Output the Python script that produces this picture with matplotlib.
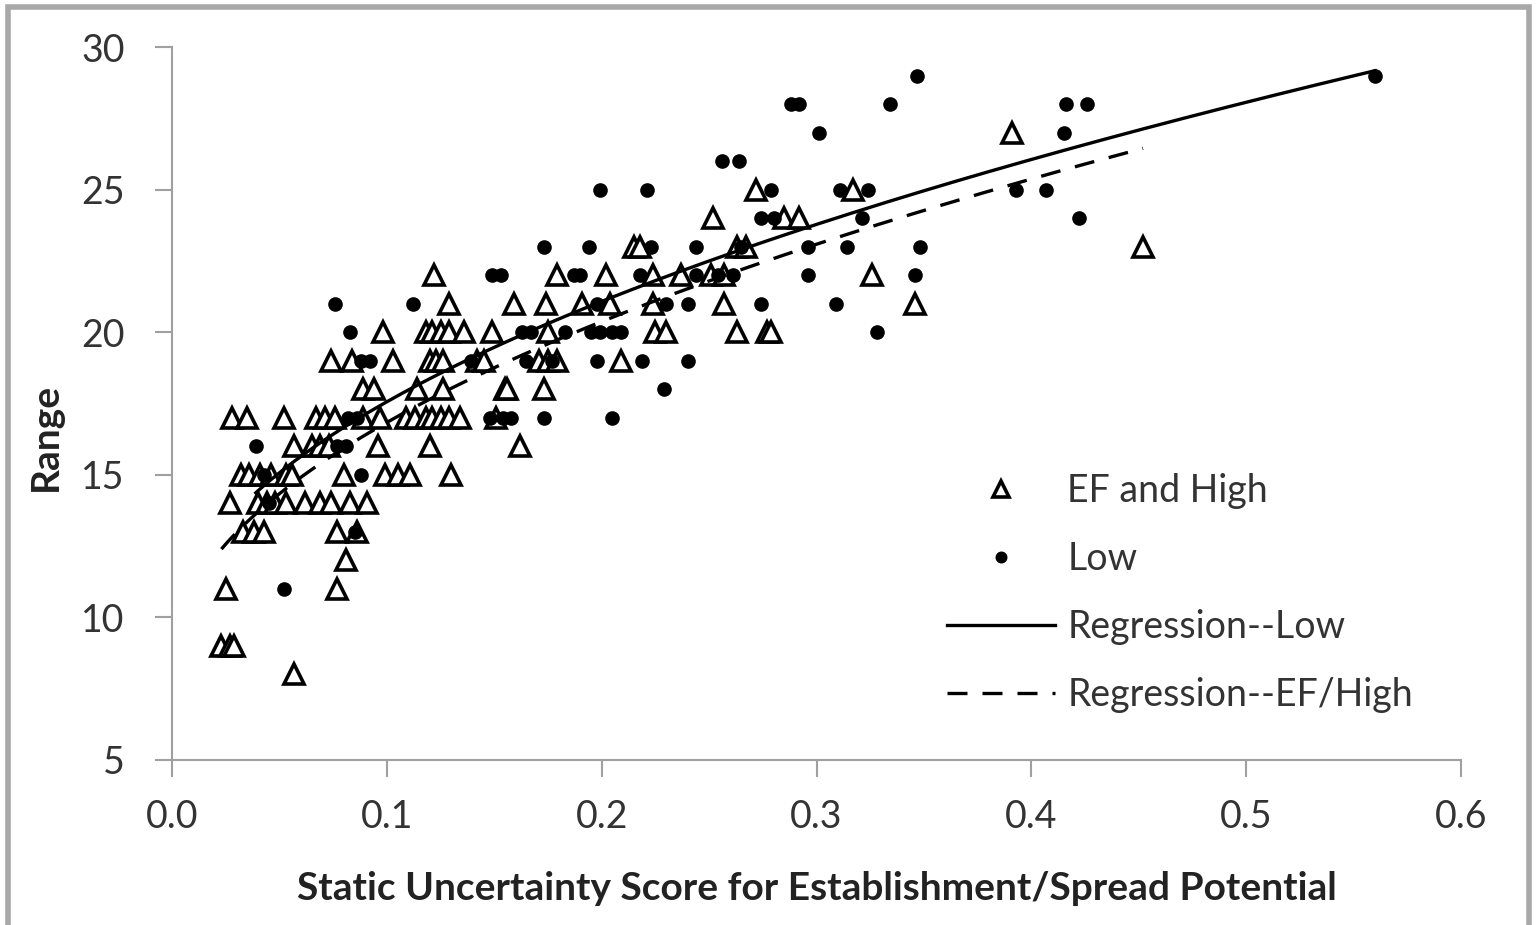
import numpy as np
import matplotlib
matplotlib.use("Agg")
import matplotlib.pyplot as plt
from matplotlib.patches import Rectangle

plt.rcParams['font.family'] = ['Lato', 'DejaVu Sans']

# EF and High species: uncertainty score vs range
ef_score = [
    0.391,
    0.272, 0.317,
    0.252, 0.285, 0.292,
    0.215, 0.218, 0.263, 0.267, 0.452,
    0.122, 0.179, 0.202, 0.224, 0.237, 0.251, 0.257, 0.326,
    0.129, 0.159, 0.174, 0.191, 0.204, 0.224, 0.257, 0.346,
    0.098, 0.118, 0.121, 0.125, 0.129, 0.136, 0.149, 0.175, 0.225, 0.230, 0.263, 0.277, 0.279,
    0.074, 0.084, 0.103, 0.120, 0.123, 0.126, 0.142, 0.145, 0.171, 0.175, 0.179, 0.209,
    0.089, 0.094, 0.114, 0.126, 0.155, 0.156, 0.173,
    0.028, 0.035, 0.052, 0.067, 0.071, 0.076, 0.089, 0.097, 0.109, 0.113, 0.118, 0.121, 0.125, 0.129, 0.134, 0.151,
    0.057, 0.065, 0.069, 0.073, 0.096, 0.120, 0.162,
    0.032, 0.036, 0.041, 0.046, 0.053, 0.056, 0.080, 0.099, 0.105, 0.111, 0.130,
    0.027, 0.040, 0.044, 0.048, 0.053, 0.062, 0.069, 0.074, 0.083, 0.091,
    0.033, 0.038, 0.043, 0.077, 0.086,
    0.081,
    0.025, 0.077,
    0.023, 0.027, 0.029,
    0.057,
]
ef_range = (
    [27] * 1 + [25] * 2 + [24] * 3 + [23] * 5 + [22] * 8 + [21] * 8 + [20] * 13
    + [19] * 12 + [18] * 7 + [17] * 16 + [16] * 7 + [15] * 11 + [14] * 10
    + [13] * 5 + [12] * 1 + [11] * 2 + [9] * 3 + [8] * 1
)

# Low species
low_score = [
    0.347, 0.560,
    0.288, 0.292, 0.334, 0.416, 0.426,
    0.301, 0.415,
    0.256, 0.264,
    0.199, 0.221, 0.279, 0.311, 0.324, 0.393, 0.407,
    0.274, 0.280, 0.321, 0.422,
    0.173, 0.194, 0.223, 0.244, 0.265, 0.296, 0.314, 0.348,
    0.149, 0.153, 0.187, 0.190, 0.218, 0.244, 0.254, 0.261, 0.296, 0.346,
    0.076, 0.112, 0.198, 0.230, 0.240, 0.274, 0.309,
    0.083, 0.163, 0.167, 0.183, 0.195, 0.199, 0.205, 0.209, 0.328,
    0.088, 0.092, 0.139, 0.165, 0.177, 0.198, 0.219, 0.240,
    0.229,
    0.082, 0.086, 0.148, 0.154, 0.158, 0.173, 0.205,
    0.039, 0.077, 0.081,
    0.043, 0.088,
    0.045,
    0.085,
    0.052,
]
low_range = (
    [29] * 2 + [28] * 5 + [27] * 2 + [26] * 2 + [25] * 7 + [24] * 4 + [23] * 8
    + [22] * 10 + [21] * 7 + [20] * 9 + [19] * 8 + [18] * 1 + [17] * 7
    + [16] * 3 + [15] * 2 + [14] * 1 + [13] * 1 + [11] * 1
)

ef_score = np.array(ef_score)
ef_range = np.array(ef_range)
low_score = np.array(low_score)
low_range = np.array(low_range)


def sqrt_fit(x, y):
    # least squares of range on sqrt(score)
    b, a = np.polyfit(np.sqrt(x), y, 1)
    xs = np.linspace(x.min(), x.max(), 200)
    return xs, a + b * np.sqrt(xs)


fig = plt.figure(figsize=(15.37, 9.25), dpi=100)
ax = fig.add_axes([172 / 1537, 1 - 760 / 925, (1461 - 172) / 1537, (760 - 47) / 925])

ax.plot(ef_score, ef_range, linestyle='none', marker='^', markersize=15,
        markerfacecolor='white', markeredgecolor='black', markeredgewidth=2.6,
        label='EF and High')
ax.plot(low_score, low_range, linestyle='none', marker='o', markersize=9.5,
        color='black', label='Low')

xs, ys = sqrt_fit(low_score, low_range)
ax.plot(xs, ys, color='black', linewidth=2.4, label='Regression--Low')
xs, ys = sqrt_fit(ef_score, ef_range)
ax.plot(xs, ys, color='black', linewidth=2.4, dashes=(6, 4.5), label='Regression--EF/High')

ax.set_xlim(0, 0.6)
ax.set_ylim(5, 30)
ax.set_xticks(np.arange(0, 0.61, 0.1))
ax.set_xticklabels(['0.0', '0.1', '0.2', '0.3', '0.4', '0.5', '0.6'])
ax.set_yticks([5, 10, 15, 20, 25, 30])

for side in ['top', 'right']:
    ax.spines[side].set_visible(False)
for side in ['left', 'bottom']:
    ax.spines[side].set_color('#a0a0a0')
    ax.spines[side].set_linewidth(1.5)
ax.tick_params(axis='both', colors='#a0a0a0', labelcolor='#333333',
               labelsize=27, length=12, width=1.5)
ax.tick_params(axis='x', pad=16)
ax.tick_params(axis='y', pad=22)

ax.set_xlabel('Static Uncertainty Score for Establishment/Spread Potential',
              fontsize=28, fontweight='bold', color='#222222', labelpad=26)
ax.set_ylabel('Range', fontsize=28, fontweight='bold', color='#222222')
ax.yaxis.set_label_coords(-0.085, 0.453)

leg = ax.legend(loc='upper left', bbox_to_anchor=(0.601, 0.403), frameon=False,
                fontsize=27, handlelength=2.9, handletextpad=0.32,
                labelspacing=0.86, borderpad=0, borderaxespad=0, markerscale=0.8)
for t in leg.get_texts():
    t.set_color('#333333')

# outer frame
fig.patches.append(Rectangle((0.005, -0.01), 0.99, 1.002, transform=fig.transFigure,
                             fill=False, edgecolor='#a8a8a8', linewidth=4))

fig.savefig('out.png', dpi=100)
